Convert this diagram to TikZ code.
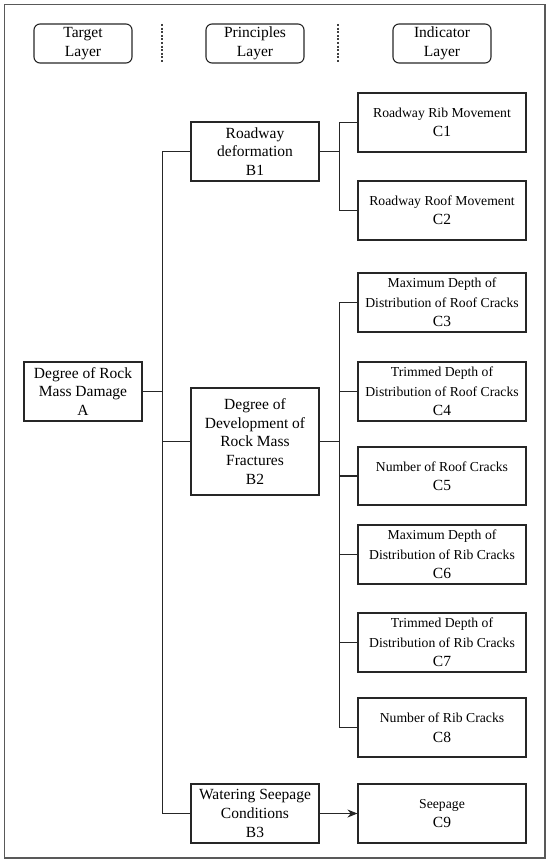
\documentclass[tikz,border=0pt]{standalone}
\usepackage{fontspec}
\setmainfont{Liberation Serif}
\usetikzlibrary{arrows.meta}
\newcommand{\ds}[1]{{\fontsize{13.7}{19.5}\selectfont #1}}
\begin{document}
\begin{tikzpicture}[x=1pt,y=-1pt,
  every node/.style={inner sep=0pt,align=center,font=\fontsize{15.5}{18.7}\selectfont,text=black},
  hdr/.style={draw=black!85,line width=1.1pt,rounded corners=6pt,minimum width=98pt,minimum height=39pt},
  abox/.style={draw=black!85,line width=1.1pt,minimum width=118pt,minimum height=59pt},
  bbox/.style={draw=black!85,line width=1.1pt,minimum width=128pt,minimum height=59pt},
  cbox/.style={draw=black!85,line width=1.1pt,minimum width=168pt,minimum height=59pt,font=\fontsize{15.5}{19.5}\selectfont},
  link/.style={draw=black!85,line width=1.1pt},
  sep/.style={draw=black!75,line width=1.1pt,dash pattern=on 2pt off 1.6pt}]
\useasboundingbox (0,0) rectangle (550,864);
\draw[draw=black!65,line width=1.4pt] (4.5,4.5) rectangle (545,858);
% headers
\node[hdr] (ht) at (83,43.5) {Target\\Layer};
\node[hdr] (hp) at (255,43.5) {Principles\\Layer};
\node[hdr] (hi) at (442,43.5) {Indicator\\Layer};
\coordinate (s1a) at (162,24); \coordinate (s1b) at (162,63);
\coordinate (s2a) at (338,24); \coordinate (s2b) at (338,63);
\draw[sep] (s1a) -- (s1b);
\draw[sep] (s2a) -- (s2b);
% target
\node[abox] (A) at (83,391.5) {Degree of Rock\\Mass Damage\\A};
% principles
\node[bbox] (B1) at (255,151.5) {Roadway\\deformation\\B1};
\node[bbox,minimum height=107pt] (B2) at (255,441.5) {Degree of\\Development of\\Rock Mass\\Fractures\\B2};
\node[bbox] (B3) at (255,813.5) {Watering Seepage\\Conditions\\B3};
% indicators
\node[cbox] (C1) at (442,122.5) {\ds{Roadway Rib Movement}\\C1};
\node[cbox] (C2) at (442,210.5) {\ds{Roadway Roof Movement}\\C2};
\node[cbox] (C3) at (442,302.5) {\ds{Maximum Depth of}\\\ds{Distribution of Roof Cracks}\\C3};
\node[cbox] (C4) at (442,391.5) {\ds{Trimmed Depth of}\\\ds{Distribution of Roof Cracks}\\C4};
\node[cbox,minimum height=58pt] (C5) at (442,476) {\ds{Number of Roof Cracks}\\C5};
\node[cbox] (C6) at (442,554.5) {\ds{Maximum Depth of}\\\ds{Distribution of Rib Cracks}\\C6};
\node[cbox] (C7) at (442,642.5) {\ds{Trimmed Depth of}\\\ds{Distribution of Rib Cracks}\\C7};
\node[cbox] (C8) at (442,727.5) {\ds{Number of Rib Cracks}\\C8};
\node[cbox] (C9) at (442,813.5) {\ds{Seepage}\\C9};
% connectors
\foreach \b in {B1,B2,B3} \draw[link] (A.east) -- ++(20,0) |- (\b.west);
\foreach \c in {C1,C2} \draw[link] (B1.east) -- ++(20,0) |- (\c.west);
\foreach \c in {C3,C4,C5,C6,C7,C8} \draw[link] (B2.east) -- ++(20,0) |- (\c.west);
\draw[link,-{Stealth[length=10pt,width=8pt]}] (B3.east) -- (C9.west);
\end{tikzpicture}
\end{document}
